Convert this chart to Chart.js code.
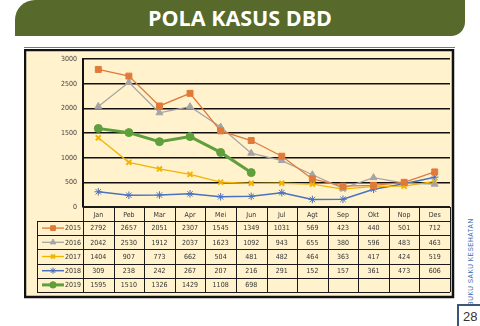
<!DOCTYPE html>
<html>
<head>
<meta charset="utf-8">
<script src="https://cdn.jsdelivr.net/npm/chart.js@4.4.1/dist/chart.umd.min.js"></script>
<style>
    body { margin: 0; width: 480px; height: 326px; background: #fff; position: relative; overflow: hidden; font-family: 'Open Sans', sans-serif; }
    #banner { position: absolute; left: 15px; top: 0; width: 450px; height: 36px; background: #57692b; border-radius: 20px 0 14px 0; color: #fff; font-weight: 700; font-size: 21.5px; text-align: center; line-height: 36px; }
    #rule { position: absolute; left: 24px; top: 47px; width: 431px; height: 1px; background: #777; }
    #box { position: absolute; left: 24px; top: 49px; }
    #side { position: absolute; left: 470px; top: 262px; transform: translate(-50%, -50%) rotate(-90deg); white-space: nowrap; font: 6.5px 'Liberation Sans', sans-serif; letter-spacing: 0.5px; color: #3a6db3; }
    #bracket { position: absolute; left: 457px; top: 304px; width: 23px; height: 22px; border-left: 2px solid #3d5577; border-top: 2px solid #3d5577; }
    #pageNum { position: absolute; left: 463px; top: 309px; font: 13px 'Liberation Sans', sans-serif; color: #333; }
</style>
</head>
<body>
<div id="banner">POLA KASUS DBD</div>
<div id="rule"></div>
<div id="box"><canvas id="myChart" width="432" height="250"></canvas></div>
<div id="side">BUKU SAKU KESEHATAN</div>
<div id="bracket"></div>
<div id="pageNum">28</div>

<script>
var months = ['Jan', 'Peb', 'Mar', 'Apr', 'Mei', 'Jun', 'Jul', 'Agt', 'Sep', 'Okt', 'Nop', 'Des'];
var years = ['2015', '2016', '2017', '2018', '2019'];

var cases2015 = [2792, 2657, 2051, 2307, 1545, 1349, 1031, 569, 423, 440, 501, 712];
var cases2016 = [2042, 2530, 1912, 2037, 1623, 1092, 943, 655, 380, 596, 483, 463];
var cases2017 = [1404, 907, 773, 662, 504, 481, 482, 464, 363, 417, 424, 519];
var cases2018 = [309, 238, 242, 267, 207, 216, 291, 152, 157, 361, 473, 606];
var cases2019 = [1595, 1510, 1326, 1429, 1108, 698];

var yMin = 0, yMax = 3000, yStep = 500;

var smallFont = "'Liberation Sans Narrow', 'DejaVu Sans Condensed', sans-serif";

function series(label, data, color, style, radius, width) {
    return {
        label: label,
        data: data,
        borderColor: color,
        backgroundColor: color,
        borderWidth: width,
        pointStyle: style,
        pointRadius: radius,
        pointBorderWidth: style == 'crossRot' ? 2 : 1,
        pointBackgroundColor: color,
        pointBorderColor: color,
        tension: 0
    };
}

// draws the cream box, the data table under the plot and its legend keys
var tablePlugin = {
    id: 'dataTable',
    beforeDraw: function (chart) {
        var ctx = chart.ctx;
        ctx.save();
        ctx.fillStyle = '#fff2cc';
        ctx.fillRect(1, 1, 428, 247);
        ctx.restore();
    },
    afterDraw: function (chart) {
        var ctx = chart.ctx;
        var area = chart.chartArea;
        var xs = chart.scales.x;
        var colW = (area.right - area.left) / months.length;
        var headBottom = area.bottom + 14;
        var rowH = 14.2;
        var legendLeft = 13;
        var tableBottom = headBottom + rowH * years.length;

        ctx.save();
        ctx.strokeStyle = '#1a1a1a';
        ctx.lineWidth = 1;

        // column lines
        for (var i = 0; i <= months.length; i++) {
            var x = Math.round(area.left + i * colW) + 0.5;
            ctx.beginPath();
            ctx.moveTo(x, area.bottom);
            ctx.lineTo(x, tableBottom);
            ctx.stroke();
        }
        // row lines
        for (var r = 0; r <= years.length; r++) {
            var y = Math.round(headBottom + r * rowH) + 0.5;
            ctx.beginPath();
            ctx.moveTo(legendLeft, y);
            ctx.lineTo(area.right, y);
            ctx.stroke();
        }
        ctx.beginPath();
        ctx.moveTo(legendLeft + 0.5, headBottom);
        ctx.lineTo(legendLeft + 0.5, tableBottom);
        ctx.stroke();

        // thick plot bottom
        ctx.lineWidth = 2;
        ctx.beginPath();
        ctx.moveTo(area.left, area.bottom);
        ctx.lineTo(area.right, area.bottom);
        ctx.stroke();

        // month header
        ctx.fillStyle = '#333';
        ctx.font = '7px ' + smallFont;
        ctx.textAlign = 'center';
        ctx.textBaseline = 'middle';
        months.forEach(function (m, j) {
            ctx.fillText(m, xs.getPixelForValue(j), (area.bottom + headBottom) / 2 + 1);
        });

        // rows
        chart.data.datasets.forEach(function (ds, k) {
            var cy = headBottom + rowH * (k + 0.5);
            ctx.fillStyle = '#333';
            ctx.textAlign = 'center';
            ds.data.forEach(function (v, j) {
                ctx.fillText(String(v), xs.getPixelForValue(j), cy + 0.5);
            });
            ctx.textAlign = 'right';
            ctx.fillText(ds.label, 57, cy + 0.5);

            // legend key
            ctx.strokeStyle = ds.borderColor;
            ctx.fillStyle = ds.borderColor;
            ctx.lineWidth = ds.borderWidth;
            ctx.beginPath();
            ctx.moveTo(18, cy);
            ctx.lineTo(40, cy);
            ctx.stroke();
            ctx.lineWidth = ds.pointBorderWidth;
            Chart.helpers.drawPoint(ctx, { pointStyle: ds.pointStyle, radius: ds.pointRadius * 0.8, borderWidth: ds.pointBorderWidth, rotation: 0 }, 29, cy);
        });

        // outer box
        ctx.strokeStyle = '#111';
        ctx.lineWidth = 2.5;
        ctx.strokeRect(1, 1, 428, 247);
        ctx.restore();
    }
};

const ctx = document.getElementById('myChart').getContext('2d');

var myChart = new Chart(ctx, {
    type: 'line',
    data: {
        labels: months,
        datasets: [
            series(years[0], cases2015, '#e07a3a', 'rect', 4.2, 1.3),
            series(years[1], cases2016, '#a5a5a5', 'triangle', 4, 1.3),
            series(years[2], cases2017, '#f2b400', 'crossRot', 3.5, 1.3),
            series(years[3], cases2018, '#4a72c0', 'star', 3.8, 1.5),
            series(years[4], cases2019, '#5f9f3c', 'circle', 4, 3)
        ]
    },
    options: {
        responsive: false,
        devicePixelRatio: 1,
        animation: false,
        layout: {
            padding: { left: 0, top: 6, right: 4, bottom: 92 }
        },
        plugins: {
            legend: { display: false },
            tooltip: { enabled: false }
        },
        scales: {
            x: {
                display: false,
                offset: true
            },
            y: {
                min: yMin,
                max: yMax,
                afterFit: function (scale) { scale.width = 59; },
                ticks: {
                    stepSize: yStep,
                    padding: 6,
                    color: '#404040',
                    font: { size: 7, family: smallFont },
                    callback: function (v) { return String(v); }
                },
                grid: {
                    color: '#111',
                    lineWidth: 1.5,
                    drawTicks: false
                },
                border: { display: true, color: '#111', width: 2 }
            }
        }
    },
    plugins: [tablePlugin]
});
</script>
</body>
</html>
